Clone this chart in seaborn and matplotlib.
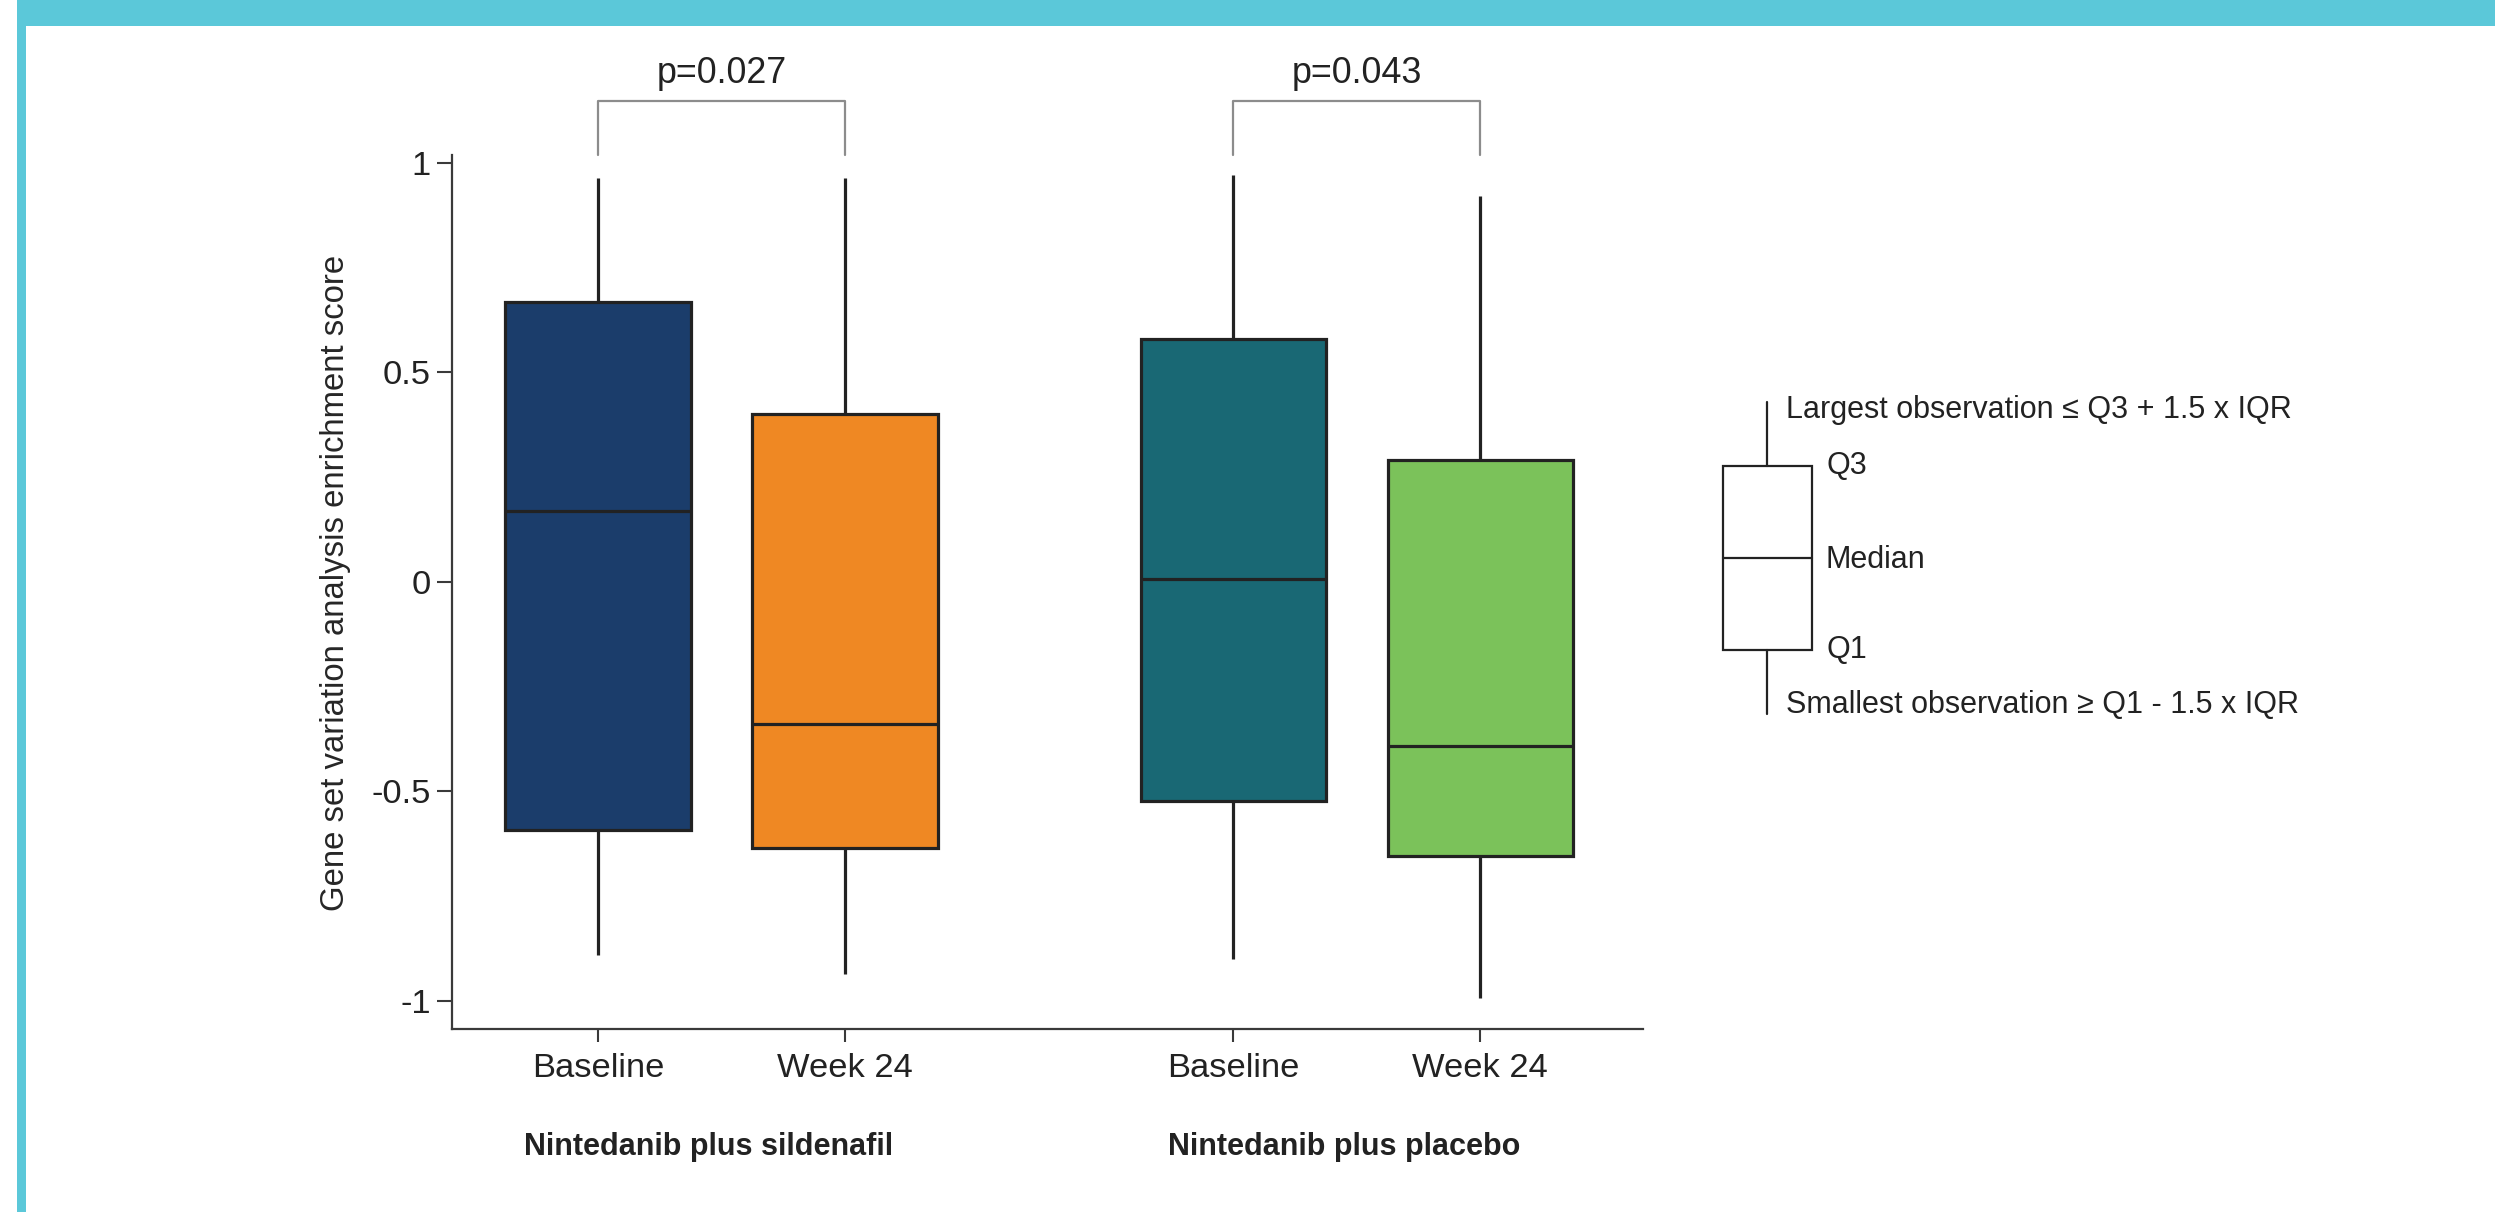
import numpy as np
import pandas as pd
import matplotlib
matplotlib.use("Agg")
import matplotlib.pyplot as plt
import seaborn as sns
from matplotlib.patches import Rectangle

# groups / timepoints
groups = ["Nintedanib plus sildenafil", "Nintedanib plus placebo"]
timepoints = ["Baseline", "Week 24"]

# five-number summaries: min, Q1, median, Q3, max
sildenafil_baseline = [-0.890, -0.593, 0.169, 0.668, 0.963]
sildenafil_week24 = [-0.936, -0.636, -0.340, 0.401, 0.963]
placebo_baseline = [-0.901, -0.522, 0.006, 0.579, 0.970]
placebo_week24 = [-0.993, -0.654, -0.392, 0.291, 0.921]

box_colors = ["#1B3D6B", "#EF8823", "#196874", "#7BC25A"]
p_values = ["p=0.027", "p=0.043"]
y_ticks = [-1, -0.5, 0, 0.5, 1]
y_tick_labels = ["-1", "-0.5", "0", "0.5", "1"]

rows = []
for g, t, vals in [(groups[0], timepoints[0], sildenafil_baseline),
                   (groups[0], timepoints[1], sildenafil_week24),
                   (groups[1], timepoints[0], placebo_baseline),
                   (groups[1], timepoints[1], placebo_week24)]:
    for v in vals:
        rows.append({"group": g, "time": t, "score": v})
df = pd.DataFrame(rows)

sns.set_style("ticks")
plt.rcParams["font.family"] = ["Liberation Sans", "DejaVu Sans"]
plt.rcParams["text.color"] = "#222222"

fig = plt.figure(figsize=(24.95, 12.12), dpi=100)
fig.patch.set_facecolor("white")
ax = fig.add_axes([0.1812, 0.151, 0.4774, 0.7211])

sns.boxplot(data=df, x="group", y="score", hue="time", order=groups,
            hue_order=timepoints, palette=box_colors[:2], saturation=1,
            width=0.778, gap=0.25, whis=(0, 100), showcaps=False,
            linecolor="#222222", linewidth=2.3, legend=False, ax=ax)

# colour each box separately (sorted left to right)
boxes = sorted(ax.patches, key=lambda p: p.get_path().get_extents().x0)
centers = []
for patch, col in zip(boxes, box_colors):
    patch.set_facecolor(col)
    ext = patch.get_path().get_extents()
    centers.append((ext.x0 + ext.x1) / 2)

ax.set_xlim(-0.4244, 1.4512)
ax.set_ylim(-1.067, 1.018)
ax.set_yticks(y_ticks)
ax.set_yticklabels(y_tick_labels)
ax.set_xticks(centers)
ax.set_xticklabels(timepoints * 2)
ax.set_xlabel("")
ax.set_ylabel("Gene set variation analysis enrichment score", fontsize=23.7)
ax.yaxis.set_label_coords(-0.085, 0.51)

sns.despine(ax=ax)
for s in ["left", "bottom"]:
    ax.spines[s].set_color("#3a3a3a")
    ax.spines[s].set_linewidth(1.6)
ax.tick_params(axis="y", length=10.5, width=1.5, pad=5, labelsize=24.8,
               color="#3a3a3a", labelcolor="#222222")
ax.tick_params(axis="x", length=9.5, width=1.5, pad=8, labelsize=24.8,
               color="#3a3a3a", labelcolor="#222222")

# group labels
for i, g in enumerate(groups):
    ax.text(i - 0.02, -0.135, g, transform=ax.get_xaxis_transform(),
            ha="center", va="center", fontsize=22, fontweight="bold")

# significance brackets
for i, p in enumerate(p_values):
    c0, c1 = centers[2 * i], centers[2 * i + 1]
    ax.plot([c0, c0, c1, c1], [1.018, 1.147, 1.147, 1.018],
            color="#8c8c8c", lw=1.6, clip_on=False)
    ax.text((c0 + c1) / 2, 1.170, p, ha="center", va="bottom", fontsize=25.8)

# overlay for frame and box legend key (pixel coordinates)
ov = fig.add_axes([0, 0, 1, 1])
ov.set_xlim(0, 2495)
ov.set_ylim(1212, 0)
ov.axis("off")
ov.patch.set_alpha(0)
cyan = "#5BC8D9"
ov.add_patch(Rectangle((17, 0), 2478, 26, color=cyan, lw=0))
ov.add_patch(Rectangle((17, 0), 9, 1212, color=cyan, lw=0))

kc = "#222222"
ov.plot([1767, 1767], [402, 466], color=kc, lw=1.6)
ov.plot([1767, 1767], [650, 714], color=kc, lw=1.6)
ov.add_patch(Rectangle((1723, 466), 89, 184, facecolor="white",
                       edgecolor=kc, lw=1.6))
ov.plot([1723, 1812], [558, 558], color=kc, lw=1.6)
ov.text(1786, 410, "Largest observation \u2264 Q3 + 1.5 x IQR", fontsize=22,
        va="center", ha="left")
ov.text(1826, 466, "Q3", fontsize=22, va="center", ha="left")
ov.text(1826, 560, "Median", fontsize=22, va="center", ha="left")
ov.text(1826, 650, "Q1", fontsize=22, va="center", ha="left")
ov.text(1786, 705, "Smallest observation \u2265 Q1 - 1.5 x IQR", fontsize=22,
        va="center", ha="left")

fig.savefig("out.png", dpi=100, facecolor="white")
